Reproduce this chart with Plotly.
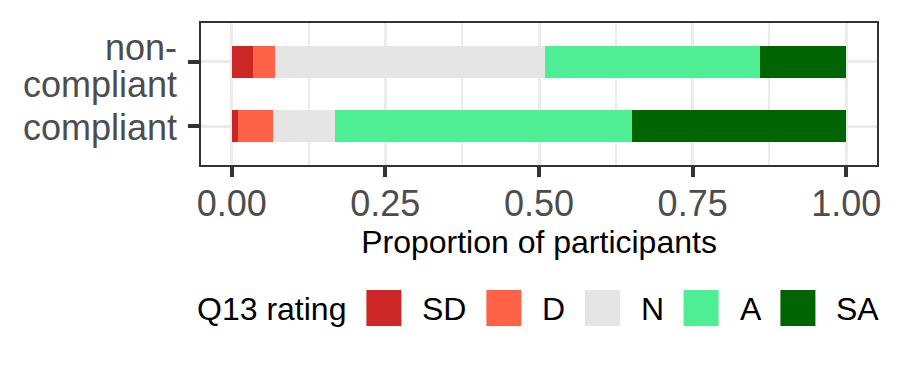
import plotly.graph_objects as go

# data (proportions)
groups = ["compliant", "non-compliant"]
group_lines = [["compliant"], ["non-", "compliant"]]
ratings = ["SD", "D", "N", "A", "SA"]
sd = [0.011, 0.035]
d = [0.056, 0.035]
n = [0.101, 0.439]
a = [0.484, 0.351]
sa = [0.348, 0.140]
x_ticks = [0, 0.25, 0.5, 0.75, 1.0]

colors = ["#CD2626", "#FF6347", "#E5E5E5", "#4EEE94", "#006400"]
series = [sd, d, n, a, sa]

# page body has an 8px margin, so work in screen pixels and subtract it
OFF = 8
W, H = 900, 375
ML, MT = 201 - OFF, 23 - OFF
MR, MB = W - (877 - OFF), H - (165 - OFF)
PW, PH = W - ML - MR, H - MT - MB
FONT = "Liberation Sans, Arial, sans-serif"

fig = go.Figure()
for name, vals, col in zip(ratings, series, colors):
	fig.add_trace(go.Bar(
		y=groups, x=vals, name=name, orientation='h',
		marker=dict(color=col, line=dict(width=0)),
		showlegend=False
	))

def px_x(p):
	return (p - OFF - ML) / PW

def px_y(p):
	return (H - MB - (p - OFF)) / PH

shapes = []
annots = []

# y tick labels as annotations to get ggplot's tighter line height
for g, lines in zip(groups, group_lines):
	if len(lines) == 1:
		shifts = [-1]
	else:
		shifts = [14, -23]
	for txt, sh in zip(lines, shifts):
		annots.append(dict(x=px_x(179), y=g, xref='paper', yref='y', text=txt, yshift=sh,
			showarrow=False, xanchor='right', yanchor='middle',
			font=dict(size=36, color='#4D4D4D', family=FONT)))

# hand built legend so the keys are big like ggplot's
CW = {'S': .667, 'D': .722, 'N': .722, 'A': .667, 'Q': .778, '1': .556, '3': .556,
	' ': .278, 'r': .333, 'a': .556, 't': .278, 'i': .222, 'n': .556, 'g': .556}
def text_w(s, size=32):
	return sum(CW.get(c, .55) for c in s) * size

x = 195
annots.append(dict(x=px_x(x), y=px_y(309), xref='paper', yref='paper', text="Q13 rating",
	showarrow=False, xanchor='left', yanchor='middle', font=dict(size=32, color='black', family=FONT)))
x += text_w("Q13 rating") + 22
for name, col in zip(ratings, colors):
	shapes.append(dict(type='rect', xref='paper', yref='paper', x0=px_x(x), x1=px_x(x + 35),
		y0=px_y(326), y1=px_y(290), fillcolor=col, line=dict(width=0)))
	x += 35 + 19
	annots.append(dict(x=px_x(x), y=px_y(309), xref='paper', yref='paper', text=name,
		showarrow=False, xanchor='left', yanchor='middle', font=dict(size=32, color='black', family=FONT)))
	x += text_w(name) + 21.5

fig.update_layout(
	barmode='stack',
	bargap=0.5,
	width=W, height=H,
	margin=dict(l=ML, r=MR, t=MT, b=MB, autoexpand=False),
	plot_bgcolor='white',
	paper_bgcolor='white',
	font=dict(family=FONT),
	shapes=shapes,
	annotations=annots,
	xaxis=dict(
		automargin=False,
		range=[-0.05, 1.05],
		tickvals=x_ticks,
		tickformat='.2f',
		ticks='outside', ticklen=10, tickwidth=3.5, tickcolor='#333333',
		tickfont=dict(size=36, color='#4D4D4D', family=FONT),
		ticklabelstandoff=-4,
		showgrid=True, gridcolor='#EBEBEB', gridwidth=3.3,
		minor=dict(dtick=0.125, tick0=0, showgrid=True, gridcolor='#EBEBEB', gridwidth=1.7, ticks=''),
		zeroline=False,
		showline=True, mirror=True, linecolor='#333333', linewidth=2,
		title=dict(text="Proportion of participants", font=dict(size=32, color='black', family=FONT), standoff=6),
	),
	yaxis=dict(
		automargin=False,
		categoryorder='array', categoryarray=groups,
		showticklabels=False,
		range=[-0.6, 1.6],
		ticks='outside', ticklen=11, tickwidth=3.5, tickcolor='#333333',
		showgrid=True, gridcolor='#EBEBEB', gridwidth=3.3,
		zeroline=False,
		showline=True, mirror=True, linecolor='#333333', linewidth=2,
	),
)

fig.write_html("out.html")
